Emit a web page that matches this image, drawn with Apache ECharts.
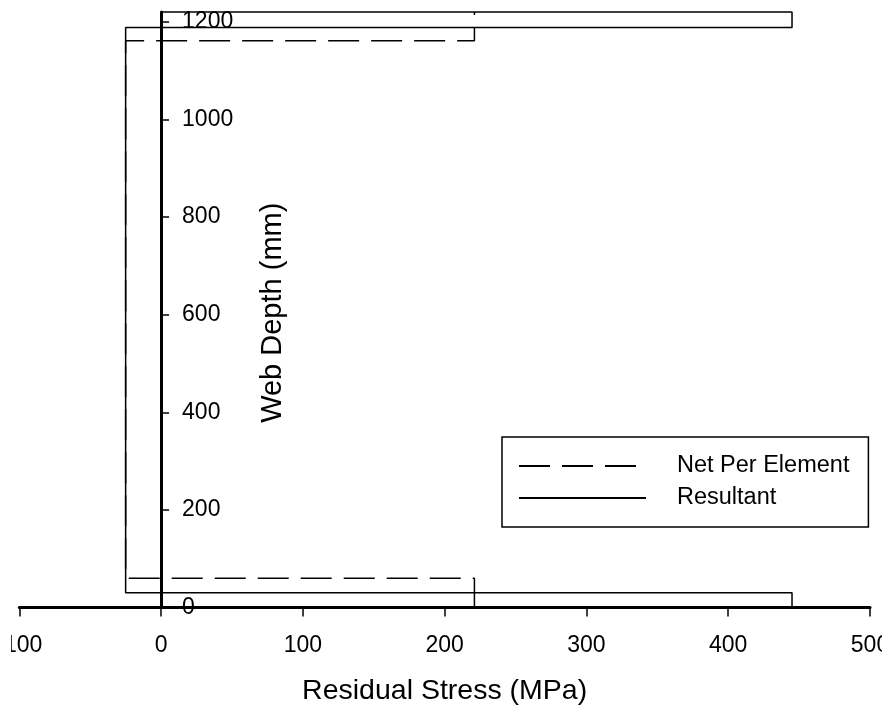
<!DOCTYPE html>
<html>
<head>
<meta charset="utf-8">
<script src="https://cdn.jsdelivr.net/npm/echarts@6/dist/echarts.min.js"></script>
<style>
  html, body { margin: 0; padding: 0; background: #fff; }
  #frame { position: absolute; left: 0; top: 0; width: 882px; height: 710px; overflow: hidden; background: #fff; }
  #chart { position: absolute; left: 11px; top: 0; width: 871px; height: 710px; }
</style>
</head>
<body>
<div id="frame"><div id="chart"></div></div>
<script>
// Axis ticks
const stressTicks = [-100, 0, 100, 200, 300, 400, 500];
const depthTicks = [0, 200, 400, 600, 800, 1000, 1200];

// Resultant residual stress profile (MPa) against web depth (mm)
const resultantStress = [0, 445, 445, -25, -25, 445, 445, 0];
const resultantDepth  = [0, 0, 30, 30, 1188, 1188, 1220, 1220];

// Net stress per element
const netStress = [221, 221, -25, -25, 221, 221];
const netDepth  = [0, 60, 60, 1161, 1161, 1220];

const pair = (xs, ys) => xs.map((x, i) => [x, ys[i]]);
const plain = v => String(v);

const FONT = '"Liberation Sans", Arial, Helvetica, sans-serif';
const LABEL_GAP = 21;   // space between the depth axis and its labels
const NAME_GAP = 126;   // depth axis title sits to the right of the labels

const chart = echarts.init(document.getElementById('chart'), null, { renderer: 'canvas' });

chart.setOption({
  animation: false,
  backgroundColor: '#fff',
  grid: { left: 8.3, right: 12, top: 12, bottom: 102.5, containLabel: false, outerBoundsMode: 'none' },
  xAxis: {
    type: 'value',
    min: -100,
    max: 500,
    interval: 100,
    name: 'Residual Stress (MPa)',
    nameLocation: 'middle',
    nameGap: 69,
    nameMoveOverlap: false,
    nameTextStyle: { fontFamily: FONT, fontSize: 28.5, color: '#000' },
    axisLine: { show: true, onZero: true, lineStyle: { color: '#000', width: 3 } },
    axisTick: { show: true, length: 9, inside: false, customValues: stressTicks,
                lineStyle: { color: '#000', width: 1.5 } },
    axisLabel: { show: true, margin: 27, fontFamily: FONT, fontSize: 23, color: '#000',
                 customValues: stressTicks, formatter: plain, hideOverlap: false },
    splitLine: { show: false }
  },
  yAxis: {
    type: 'value',
    min: 0,
    max: 1220,
    interval: 200,
    name: 'Web Depth (mm)',
    nameLocation: 'middle',
    nameRotate: 90,
    nameGap: -NAME_GAP,
    nameMoveOverlap: false,
    nameTextStyle: { fontFamily: FONT, fontSize: 29, color: '#000', padding: [0, 6, 0, 0] },
    axisLine: { show: true, onZero: true, lineStyle: { color: '#000', width: 3 } },
    axisTick: { show: true, inside: true, length: 8, customValues: depthTicks,
                lineStyle: { color: '#000', width: 1.5 } },
    axisLabel: { show: true, inside: true, margin: LABEL_GAP, align: 'left', customValues: depthTicks,
                 formatter: plain, hideOverlap: false,
                 fontFamily: FONT, fontSize: 23, color: '#000' },
    splitLine: { show: false }
  },
  legend: {
    show: true,
    orient: 'vertical',
    left: 491,
    top: 437,
    padding: [17, 19, 17, 16],
    itemGap: 8,
    itemWidth: 127,
    itemHeight: 14,
    borderColor: '#000',
    borderWidth: 1.5,
    backgroundColor: '#fff',
    itemStyle: { opacity: 0 },
    textStyle: { fontFamily: FONT, fontSize: 23.5, color: '#000', padding: [0, 0, 0, 26] },
    data: ['Net Per Element', 'Resultant']
  },
  series: [
    {
      name: 'Net Per Element',
      type: 'line',
      data: pair(netStress, netDepth),
      symbol: 'none',
      clip: false,
      itemStyle: { color: '#000' },
      lineStyle: { color: '#000', width: 1.5, type: [31, 12] },
      z: 3
    },
    {
      name: 'Resultant',
      type: 'line',
      data: pair(resultantStress, resultantDepth),
      symbol: 'none',
      clip: false,
      itemStyle: { color: '#000' },
      lineStyle: { color: '#000', width: 1.5, type: 'solid' },
      z: 2
    }
  ]
});

// The depth axis crosses at zero stress; its labels and title are laid out
// from the grid edge, so shift them by the distance to the zero line.
const zeroShift = chart.convertToPixel({ xAxisIndex: 0 }, 0) -
                  chart.convertToPixel({ xAxisIndex: 0 }, stressTicks[0]);
chart.setOption({
  yAxis: {
    nameGap: -(zeroShift + NAME_GAP),
    axisLabel: { margin: zeroShift + LABEL_GAP }
  }
});
</script>
</body>
</html>
